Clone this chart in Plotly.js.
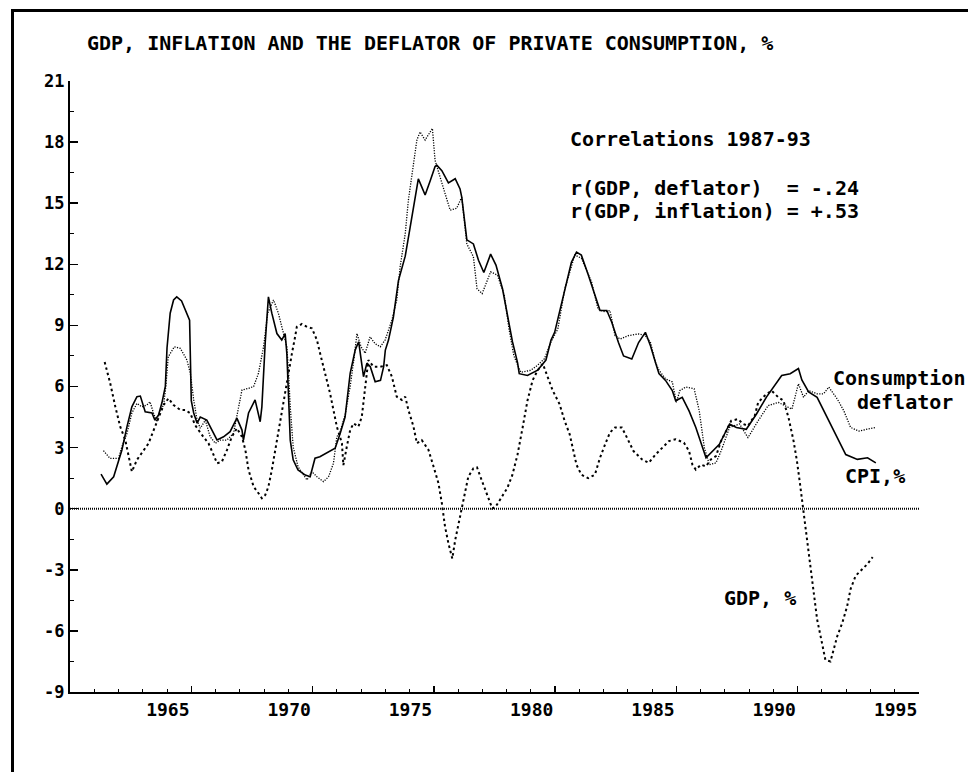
<!DOCTYPE html>
<html>
<head>
<meta charset="utf-8">
<script src="https://cdn.plot.ly/plotly-3.0.1.min.js"></script>
<style>
html,body{margin:0;padding:0;background:#fff;}
#wrap{position:relative;width:968px;height:772px;}
#chart{width:968px;height:772px;}
#frame{position:absolute;left:11px;top:9px;right:0;bottom:0;border-top:3px solid #000;border-left:3px solid #000;pointer-events:none;}
</style>
</head>
<body>
<div id="wrap"><div id="chart"></div><div id="frame"></div></div>
<script>
// ---- Data (decimal years, %) ----
const cpiYears = [1961.28,1961.52,1961.80,1962.14,1962.35,1962.55,1962.76,1962.90,1963.10,1963.38,1963.50,1963.65,1963.79,1963.93,1964.00,1964.13,1964.27,1964.40,1964.60,1964.80,1964.93,1965.00,1965.10,1965.24,1965.37,1965.64,1965.90,1966.06,1966.33,1966.60,1966.88,1967.09,1967.15,1967.36,1967.63,1967.84,1967.91,1968.05,1968.18,1968.32,1968.53,1968.73,1968.87,1968.94,1969.08,1969.20,1969.40,1969.70,1969.90,1970.10,1970.30,1970.70,1970.93,1971.14,1971.34,1971.55,1971.76,1971.90,1972.10,1972.24,1972.38,1972.58,1972.80,1972.93,1973.00,1973.13,1973.33,1973.54,1973.82,1974.02,1974.23,1974.36,1974.50,1974.64,1974.85,1975.05,1975.12,1975.33,1975.60,1975.88,1976.08,1976.15,1976.36,1976.63,1976.84,1977.06,1977.34,1977.56,1977.83,1978.03,1978.24,1978.45,1978.52,1978.86,1979.28,1979.62,1979.83,1979.98,1980.40,1980.67,1980.88,1981.08,1981.36,1981.64,1981.85,1982.13,1982.33,1982.61,1982.82,1983.16,1983.44,1983.72,1983.93,1984.14,1984.28,1984.55,1984.83,1984.97,1985.24,1985.52,1985.80,1986.22,1986.49,1986.77,1987.19,1987.47,1987.88,1988.30,1988.71,1988.99,1989.34,1989.69,1990.03,1990.17,1990.45,1990.80,1991.21,1991.63,1991.98,1992.46,1992.88,1993.22];
const cpiValues = [1.70,1.21,1.57,2.88,4.03,5.00,5.50,5.53,4.76,4.70,4.35,4.60,5.20,6.00,7.90,9.60,10.25,10.40,10.20,9.60,9.26,5.30,4.70,4.20,4.50,4.35,3.70,3.38,3.53,3.78,4.45,3.86,3.37,4.70,5.34,4.27,5.00,8.20,10.40,9.60,8.60,8.28,8.60,7.60,3.37,2.40,1.90,1.65,1.57,2.48,2.55,2.80,2.97,3.70,4.50,6.65,7.80,8.20,6.48,7.15,6.97,6.23,6.30,6.97,7.79,8.28,9.40,11.20,12.40,13.80,15.30,16.20,15.80,15.40,16.10,16.80,16.87,16.60,16.00,16.20,15.70,15.30,13.20,13.00,12.20,11.60,12.50,11.96,10.80,9.50,8.20,7.17,6.63,6.54,6.80,7.30,8.28,8.66,10.80,12.10,12.60,12.45,11.50,10.50,9.73,9.73,9.17,8.16,7.50,7.35,8.16,8.66,8.00,7.17,6.63,6.30,5.80,5.30,5.47,4.80,3.99,2.50,2.83,3.16,4.16,3.99,3.90,4.65,5.48,5.97,6.54,6.63,6.88,6.32,5.73,5.47,4.48,3.49,2.66,2.42,2.50,2.25];

const defYears = [1961.38,1961.65,1962.00,1962.14,1962.35,1962.55,1962.76,1962.97,1963.17,1963.30,1963.44,1963.58,1963.72,1963.86,1963.95,1964.05,1964.30,1964.55,1964.82,1964.96,1965.10,1965.24,1965.37,1965.58,1965.78,1965.99,1966.19,1966.47,1966.74,1966.88,1967.09,1967.36,1967.57,1967.77,1967.98,1968.15,1968.39,1968.59,1968.80,1968.94,1969.01,1969.08,1969.20,1969.40,1969.77,1969.97,1970.18,1970.45,1970.66,1970.86,1971.00,1971.14,1971.34,1971.55,1971.70,1971.83,1972.00,1972.17,1972.37,1972.58,1972.79,1972.99,1973.27,1973.47,1973.61,1973.82,1973.95,1974.16,1974.30,1974.43,1974.64,1974.85,1974.94,1975.05,1975.26,1975.46,1975.67,1975.94,1976.15,1976.36,1976.63,1976.78,1976.99,1977.34,1977.62,1977.90,1978.10,1978.30,1978.58,1979.00,1979.28,1979.56,1979.83,1980.11,1980.40,1980.81,1981.08,1981.50,1981.77,1982.06,1982.26,1982.47,1982.68,1983.02,1983.44,1983.72,1983.93,1984.14,1984.28,1984.55,1984.83,1985.00,1985.14,1985.38,1985.73,1985.94,1986.15,1986.36,1986.63,1986.84,1987.19,1987.60,1987.95,1988.37,1988.78,1989.20,1989.76,1990.03,1990.24,1990.45,1990.80,1991.07,1991.28,1991.63,1991.90,1992.18,1992.53,1992.88,1993.22];
const defValues = [2.85,2.47,2.47,3.04,3.70,4.70,5.17,5.00,5.09,5.25,4.70,4.27,4.85,5.09,6.00,7.46,7.95,7.87,7.30,6.66,5.34,4.35,3.95,4.35,3.53,3.21,3.37,3.37,3.70,4.52,5.83,5.91,6.00,6.65,7.95,9.60,10.25,9.60,8.60,7.95,6.66,5.00,3.04,2.06,1.41,1.82,1.57,1.33,1.57,2.23,3.53,3.80,4.60,6.00,7.30,8.60,7.95,7.63,8.44,8.10,7.95,8.28,9.26,10.25,11.88,13.50,15.15,16.80,18.10,18.50,18.10,18.50,18.67,17.10,16.30,15.50,14.66,14.75,15.30,13.00,12.37,10.80,10.56,11.63,11.47,10.50,8.82,7.50,6.70,6.80,7.05,7.37,8.20,8.82,10.80,12.46,12.30,11.14,9.80,9.66,9.73,8.50,8.33,8.50,8.58,8.50,8.16,7.17,6.80,6.38,6.22,5.22,5.80,5.97,5.89,4.81,3.00,2.16,2.25,2.83,3.99,4.16,3.49,4.32,5.06,5.22,4.89,6.13,5.47,5.80,5.64,5.64,5.97,5.39,4.81,3.99,3.81,3.91,3.99];

const gdpYears = [1961.43,1961.66,1961.87,1962.07,1962.28,1962.42,1962.55,1962.76,1963.03,1963.24,1963.45,1963.66,1963.86,1964.06,1964.27,1964.55,1964.75,1964.96,1965.16,1965.44,1965.71,1965.92,1966.06,1966.26,1966.47,1966.67,1966.88,1967.09,1967.23,1967.36,1967.57,1967.77,1967.91,1968.05,1968.18,1968.32,1968.46,1968.60,1968.73,1968.87,1969.01,1969.15,1969.28,1969.35,1969.56,1969.77,1969.97,1970.18,1970.31,1970.52,1970.72,1970.86,1971.00,1971.21,1971.27,1971.41,1971.55,1971.69,1971.89,1972.03,1972.17,1972.30,1972.51,1972.79,1973.06,1973.27,1973.47,1973.68,1973.82,1973.95,1974.16,1974.30,1974.50,1974.78,1974.99,1975.19,1975.33,1975.46,1975.60,1975.76,1975.88,1976.02,1976.15,1976.29,1976.42,1976.63,1976.78,1976.99,1977.20,1977.41,1977.55,1977.76,1978.03,1978.24,1978.45,1978.66,1978.86,1979.07,1979.28,1979.49,1979.69,1979.90,1980.18,1980.39,1980.60,1980.74,1980.88,1981.08,1981.36,1981.64,1981.85,1982.06,1982.26,1982.47,1982.75,1982.96,1983.23,1983.58,1983.86,1984.14,1984.41,1984.69,1984.97,1985.31,1985.52,1985.66,1985.80,1986.01,1986.22,1986.42,1986.63,1986.84,1987.05,1987.26,1987.54,1987.75,1987.95,1988.23,1988.37,1988.64,1988.92,1989.20,1989.41,1989.62,1989.83,1989.97,1990.10,1990.24,1990.38,1990.52,1990.66,1990.80,1991.00,1991.14,1991.35,1991.49,1991.63,1991.84,1992.04,1992.18,1992.39,1992.67,1992.88,1993.09];
const gdpValues = [7.20,6.15,5.00,4.03,3.37,2.55,1.82,2.40,2.88,3.21,3.86,4.52,5.09,5.42,5.09,4.85,4.85,4.68,4.10,3.62,3.21,2.64,2.23,2.30,2.88,3.53,3.95,3.53,2.88,1.90,1.08,0.76,0.51,0.67,1.08,1.90,2.88,3.86,4.85,5.83,6.65,7.63,8.44,8.93,9.07,8.93,8.86,8.28,7.63,6.65,5.67,4.85,4.03,3.21,2.14,3.04,3.86,4.19,4.03,4.52,6.15,7.30,6.97,6.97,7.05,6.48,5.50,5.34,5.50,4.85,4.03,3.21,3.37,2.88,2.06,1.25,0.27,-0.88,-1.70,-2.45,-1.54,-0.72,-0.06,0.76,1.57,1.98,2.03,1.34,0.67,0.01,0.10,0.52,1.02,1.67,2.66,3.99,5.31,6.30,6.80,7.12,6.47,5.80,5.14,4.32,3.65,2.83,2.16,1.67,1.50,1.67,2.50,3.16,3.74,3.99,3.99,3.49,2.83,2.42,2.25,2.66,3.00,3.32,3.41,3.24,2.83,2.16,1.92,2.16,2.08,2.42,2.58,3.32,3.81,4.32,4.40,4.16,4.07,4.57,5.22,5.55,5.80,5.47,5.31,4.48,3.32,2.33,1.17,-0.15,-1.47,-2.79,-4.11,-5.44,-6.59,-7.42,-7.50,-6.93,-6.26,-5.60,-4.78,-3.94,-3.29,-2.96,-2.71,-2.38];

const xTickVals = [1965,1970,1975,1980,1985,1990,1995];
const xTickText = ['1965','1970','1975','1980','1985','1990','1995'];
const yTickVals = [-9,-6,-3,0,3,6,9,12,15,18,21];
const yTickText = ['-9','-6','-3','0','3','6','9','12','15','18','21'];

const titleText = 'GDP, INFLATION AND THE DEFLATOR OF PRIVATE CONSUMPTION, %';
const corrTitle = 'Correlations 1987-93';
const corrLine1 = 'r(GDP, deflator)\u00a0\u00a0= -.24';
const corrLine2 = 'r(GDP, inflation) = +.53';

const FONT = '"DejaVu Sans Mono", "Liberation Mono", monospace';

const traces = [
  {x: gdpYears, y: gdpValues, type: 'scatter', mode: 'lines', name: 'GDP, %',
   line: {color: '#000', width: 2, dash: '2.5px,3px'}, hoverinfo: 'skip'},
  {x: defYears, y: defValues, type: 'scatter', mode: 'lines', name: 'Consumption deflator',
   line: {color: '#000', width: 1.3, dash: '1.2px,1.4px'}, hoverinfo: 'skip'},
  {x: cpiYears, y: cpiValues, type: 'scatter', mode: 'lines', name: 'CPI,%',
   line: {color: '#000', width: 1.6}, hoverinfo: 'skip'}
];

function ann(text, x, y, xanchor) {
  return {text: text, x: x, y: y, xref: 'paper', yref: 'paper', xanchor: xanchor, yanchor: 'middle',
          showarrow: false, font: {family: FONT, size: 20, color: '#000', weight: 'bold'}};
}

// pixel -> paper conversion for the 70..919 x 81..692 plot box
const px = v => (v - 70) / 849;
const py = v => (692 - v) / 611;

const layout = {
  width: 968, height: 772,
  margin: {l: 70, r: 49, t: 81, b: 80, pad: 0},
  paper_bgcolor: '#fff', plot_bgcolor: '#fff',
  showlegend: false,
  title: {text: titleText, xref: 'container', yref: 'container', x: 87/968, xanchor: 'left',
          y: 1 - 43/772, yanchor: 'middle',
          font: {family: FONT, size: 20, color: '#000', weight: 'bold'}},
  xaxis: {range: [1960, 1995], tickmode: 'array', tickvals: xTickVals, ticktext: xTickText,
          ticks: 'inside', ticklen: 6, tickwidth: 1.5, tickcolor: '#000',
          ticklabelposition: 'outside left',
          minor: {dtick: 1, tick0: 1960, ticks: 'inside', ticklen: 3, tickwidth: 1, tickcolor: '#000', showgrid: false},
          showline: true, linewidth: 2, linecolor: '#000', showgrid: false, zeroline: false,
          tickfont: {family: FONT, size: 18, color: '#000', weight: 'bold'}, fixedrange: true},
  yaxis: {range: [-9, 21], tickmode: 'array', tickvals: yTickVals, ticktext: yTickText,
          ticks: 'inside', ticklen: 8, tickwidth: 1.5, tickcolor: '#000',
          minor: {dtick: 1.5, tick0: 0, ticks: 'inside', ticklen: 4, tickwidth: 1, tickcolor: '#000', showgrid: false},
          showline: true, linewidth: 2, linecolor: '#000', showgrid: false, zeroline: false,
          tickfont: {family: FONT, size: 17, color: '#000', weight: 'bold'}, fixedrange: true},
  shapes: [
    {type: 'line', xref: 'paper', yref: 'y', x0: 0, x1: 1, y0: 0, y1: 0,
     line: {color: '#000', width: 2, dash: '1px,1px'}}
  ],
  annotations: [
    ann(corrTitle, px(568), py(139), 'left'),
    ann(corrLine1, px(568), py(188), 'left'),
    ann(corrLine2, px(568), py(211), 'left'),
    ann('Consumption', px(899), py(378), 'center'),
    ann('deflator', px(905), py(402), 'center'),
    ann('CPI,%', px(875), py(476), 'center'),
    ann('GDP, %', px(760), py(598), 'center')
  ]
};

Plotly.newPlot('chart', traces, layout, {staticPlot: true, displayModeBar: false});
</script>
</body>
</html>
